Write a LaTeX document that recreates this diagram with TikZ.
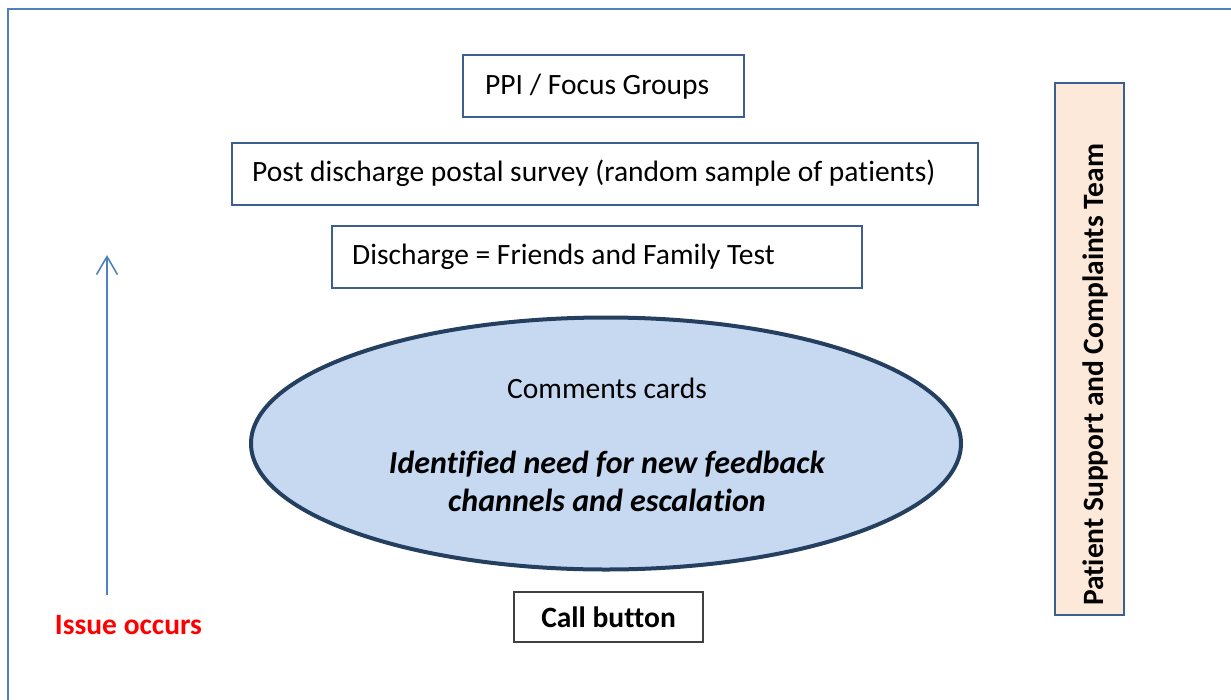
\documentclass[tikz,border=0pt]{standalone}
\usepackage{fontspec}
\setmainfont{Carlito}[RawFeature=-liga]
\usetikzlibrary{arrows.meta,shapes.geometric}
\definecolor{frameblue}{HTML}{4F81BD}
\definecolor{boxedge}{HTML}{3D5F8F}
\definecolor{ellfill}{HTML}{C6D9F1}
\definecolor{elledge}{HTML}{243F60}
\definecolor{peach}{HTML}{FDE9D9}
\definecolor{calledge}{HTML}{404040}
\tikzset{
  txt/.style={font=\fontsize{29.5}{34}\selectfont},
  btxt/.style={font=\fontsize{29.5}{34}\selectfont\bfseries},
  lbox/.style={draw=boxedge, line width=1.3pt, rectangle, minimum height=62pt, inner sep=0pt},
  ltext/.style={txt, anchor=west, inner sep=0pt},
  oval/.style={ellipse, draw=elledge, fill=ellfill, line width=4pt,
    minimum width=710pt, minimum height=252pt, inner sep=0pt},
}
\begin{document}
\begin{tikzpicture}[x=1pt,y=-1pt]
\useasboundingbox (0,0) rectangle (1231,699);
% outer frame
\draw[frameblue, line width=2pt] (8,720) -- (8,9) -- (1240,9);
% left-aligned boxes
\node[lbox, minimum width=281pt] (ppi) at (603.5,86) {};
\node[ltext] (ppit) at (485,86.5) {PPI / Focus Groups};
\node[lbox, minimum width=746pt] (post) at (605,174) {};
\node[ltext] (postt) at (252,173.5) {Post discharge postal survey (random sample of patients)};
\node[lbox, minimum width=530pt] (disc) at (597,257) {};
\node[ltext] (disct) at (352,256.5) {Discharge = Friends and Family Test};
% ellipse
\node[oval] (ell) at (606,443.5) {};
\node[txt] (cards) at (607,388) {Comments cards};
\node[font=\fontsize{32}{38}\selectfont\bfseries\itshape, align=center] (need) at (607,481)
  {Identified need for new feedback\\channels and escalation};
% call button
\node[draw=calledge, line width=1.3pt, minimum width=189pt, minimum height=50pt, btxt] (call) at (608.5,617) {Call button};
% arrow
\coordinate (abot) at (107,595);
\coordinate (atop) at (107,255);
\draw[frameblue, line width=1.6pt, -{Straight Barb[length=18pt,width=21pt,line width=1.6pt]}] (abot) -- (atop);
\node[text=red, btxt] (issue) at (128.5,625) {Issue occurs};
% right vertical box
\node[draw=boxedge, fill=peach, line width=1.3pt, minimum width=69pt, minimum height=532pt,
  inner sep=0pt] (pst) at (1089.5,349) {};
\node[rotate=90, btxt] (pstxt) at (1095.5,375) {Patient Support and Complaints Team};
\end{tikzpicture}
\end{document}
